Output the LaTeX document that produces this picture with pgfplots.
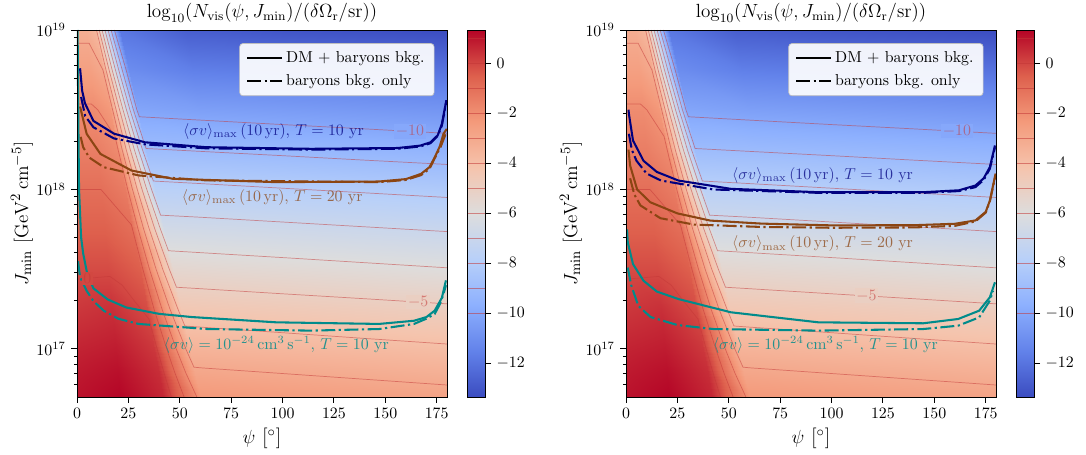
\documentclass[border=0pt]{standalone}
\usepackage{pgfplots}
\pgfplotsset{compat=1.18}
\usepackage{pgfplotstable}

\definecolor{navyc}{RGB}{0,0,128}
\definecolor{brownc}{RGB}{139,69,19}
\definecolor{tealc}{RGB}{0,139,139}
\definecolor{contourcol}{RGB}{195,55,55}

% field: psi [deg], L = log10(Jmin), value
\pgfplotstableread{
p L v
0 16.69 1.05
20.95 16.69 1.3
41.9 16.69 0.65
60.1 16.69 -2.29
84.1 16.69 -2.37
100 16.69 -2.43
140 16.69 -2.57
180 16.69 -2.71
0 16.85 0.9
19.85 16.85 1.1
39.7 16.85 0.5
57.55 16.85 -2.87
82.0 16.85 -2.96
100 16.85 -3.02
140 16.85 -3.16
180 16.85 -3.30
0 17.0 0.7
18.8 17.0 0.85
37.6 17.0 0.3
55 17.0 -3.44
80 17.0 -3.53
100 17.0 -3.60
140 17.0 -3.74
180 17.0 -3.88
0 17.25 0.3
17 17.25 0.45
34 17.25 -0.1
50.75 17.25 -4.42
76.6 17.25 -4.51
100 17.25 -4.59
140 17.25 -4.73
180 17.25 -4.87
0 17.5 -0.1
15.2 17.5 -0.1
30.45 17.5 -0.5
46.5 17.5 -5.49
73.2 17.5 -5.59
100 17.5 -5.68
140 17.5 -5.82
180 17.5 -5.96
0 17.75 -0.55
13.45 17.75 -0.55
26.9 17.75 -0.95
42.25 17.75 -6.59
69.8 17.75 -6.68
100 17.75 -6.79
140 17.75 -6.93
180 17.75 -7.07
0 18.0 -1.0
11.65 18.0 -1.0
23.3 18.0 -1.4
38 18.0 -7.74
66.4 18.0 -7.84
100 18.0 -7.96
140 18.0 -8.10
180 18.0 -8.24
0 18.25 -1.45
9.85 18.25 -1.45
19.7 18.25 -1.85
33.75 18.25 -8.97
63 18.25 -9.07
100 18.25 -9.20
140 18.25 -9.34
180 18.25 -9.48
0 18.5 -1.9
8.08 18.5 -1.9
16.15 18.5 -2.3
29.5 18.5 -10.1
59.6 18.5 -10.33
100 18.5 -10.47
140 18.5 -10.61
180 18.5 -10.75
0 18.75 -2.6
6.3 18.75 -2.6
12.6 18.75 -3.0
25.25 18.75 -11.1
56.2 18.75 -11.6
100 18.75 -11.77
140 18.75 -11.91
180 18.75 -12.05
0 19.0 -3.2
4.5 19.0 -3.2
9 19.0 -3.6
21 19.0 -11.9
52.8 19.0 -12.75
100 19.0 -13.07
140 19.0 -13.21
180 19.0 -13.35
}\field

\pgfplotsset{
  colormap={coolwarm}{rgb255=(59,76,192) rgb255=(98,130,234) rgb255=(141,176,254) rgb255=(184,208,249) rgb255=(221,221,221) rgb255=(245,196,173) rgb255=(244,154,123) rgb255=(222,96,77) rgb255=(180,4,38)},
  ctr/.style={contourcol, opacity=0.5, line width=0.45pt, forget plot},
  solidc/.style={line width=1.3pt, forget plot},
  dashc/.style={line width=1.3pt, dash pattern=on 8.8pt off 2.2pt on 1.4pt off 2.2pt, forget plot},
  every axis title shift=0pt,
  panel/.style={
    width=233.1pt, height=231.2pt, scale only axis,
    xmin=0, xmax=180, ymin=16.69897, ymax=19,
    xtick={0,25,...,175},
    ytick={17,18,19}, yticklabels={$10^{17}$,$10^{18}$,$10^{19}$},
    minor ytick={16.77815,16.84510,16.90309,16.95424,17.30103,17.47712,17.60206,17.69897,17.77815,17.84510,17.90309,17.95424,18.30103,18.47712,18.60206,18.69897,18.77815,18.84510,18.90309,18.95424},
    tick align=outside, tick pos=left,
    major tick length=3.5pt, minor tick length=2pt,
    every tick/.style={black, line width=0.6pt},
    axis line style={line width=0.6pt},
    axis on top,
    colormap name=coolwarm, point meta min=-13.36, point meta max=1.32,
    colorbar,
    colorbar style={
      at={(parent axis.north east)}, anchor=north west, xshift=4.4pt,
      width=11.3pt,
      ytick={-12,-10,...,0},
      ytick pos=right, yticklabel pos=right,
      tick align=outside, major tick length=3.5pt,
      axis line style={line width=0.6pt},
      axis on top,
      extra y ticks={-10,-9,...,1}, extra y tick labels={},
      extra y tick style={grid=major, major tick length=0pt,
        major grid style={color=contourcol, line width=0.45pt, opacity=0.55}},
    },
    title={$\log_{10}(N_{\mathrm{vis}}(\psi, J_{\mathrm{min}})/(\delta\Omega_{\mathrm{r}}/\mathrm{sr}))$},
    title style={font=\large, at={(axis description cs:0.5,1.046)}, anchor=center},
    xlabel={$\psi$ [$^\circ$]},
    ylabel={$J_{\mathrm{min}}$ $[\mathrm{GeV}^2\,\mathrm{cm}^{-5}]$},
    xlabel style={font=\fontsize{13}{15}\selectfont, at={(axis description cs:0.5,-0.112)}, anchor=center},
    ylabel style={font=\fontsize{12.5}{15}\selectfont, at={(axis description cs:-0.149,0.5)}, anchor=center},
    legend cell align=left,
    legend style={at={(0.966,0.964)}, anchor=north east, draw=black!25, fill=white,
      fill opacity=0.92, text opacity=1, rounded corners=2pt, font=\normalsize,
      row sep=2pt, inner xsep=4pt, inner ysep=3pt},
    legend image code/.code={\draw[#1] (0pt,0pt) -- (22pt,0pt);},
  },
}

\newcommand{\drawfield}{%
\addplot[surf, shader=interp, mesh/cols=8, point meta=explicit, forget plot] table[x=p, y=L, meta=v] {\field};
}

\newcommand{\drawcontours}{%
\addplot[ctr] coordinates {(18.2,19) (23.9,18.75) (29.13,18.5) (30.35,18.456) (60,18.435) (100,18.407) (140,18.38) (180,18.352)};
\addplot[ctr] coordinates {(16.6,19) (22.0,18.75) (27.44,18.5) (33.6,18.257) (60,18.239) (100,18.212) (140,18.184) (180,18.157)};
\addplot[ctr] coordinates {(15.1,19) (20.3,18.75) (25.76,18.5) (31.84,18.25) (37.15,18.053) (60,18.037) (100,18.008) (140,17.979) (180,17.95)};
\addplot[ctr] coordinates {(13.6,19) (18.7,18.75) (24.07,18.5) (29.86,18.25) (36.28,18.0) (40.7,17.839) (60,17.826) (100,17.796) (140,17.766) (180,17.736)};
\addplot[ctr] coordinates {(12.2,19) (17.1,18.75) (22.39,18.5) (27.89,18.25) (33.97,18) (40.64,17.75) (44.5,17.616) (60,17.604) (100,17.573) (140,17.541) (180,17.509)};
\addplot[ctr] coordinates {(10.8,19) (15.6,18.75) (20.70,18.5) (25.92,18.25) (31.65,18) (37.92,17.75) (44.92,17.5) (48.4,17.387) (60,17.378) (100,17.346) (140,17.315) (180,17.283)};
\addplot[ctr] coordinates {(9.5,19) (14.1,18.75) (19.02,18.5) (23.94,18.25) (29.33,18) (35.20,17.75) (41.71,17.5) (49.12,17.25) (52.5,17.144) (60,17.137) (100,17.102) (140,17.066) (180,17.031)};
\addplot[ctr] coordinates {(0,18.917) (5.9,18.917) (12.6,18.75) (17.33,18.5) (21.97,18.25) (27.01,18) (32.48,17.75) (38.49,17.5) (45.24,17.25) (52.95,17.0) (56.9,16.886) (60,16.882) (100,16.846) (140,16.81) (180,16.774)};
\addplot[ctr] coordinates {(0,18.536) (7,18.536) (10.1,18.5) (18.5,18.333) (20.0,18.25) (24.69,18) (29.76,17.75) (35.27,17.5) (41.37,17.25) (48.30,17.0) (52.94,16.85) (58.30,16.699)};
\addplot[ctr] coordinates {(0,18.0) (11.65,18.0) (26.5,17.778) (27.04,17.75) (32.06,17.5) (37.49,17.25) (43.65,17.0) (47.64,16.85) (52.11,16.699)};
\addplot[ctr] coordinates {(0,17.4375) (16,17.455) (22,17.40) (28,17.30) (35,17.1875) (39.0,17.0) (42.35,16.85) (45.92,16.699)};
}

\newcommand{\drawlegend}{%
\addlegendimage{black, line width=1.3pt}
\addlegendentry{DM + baryons bkg.}
\addlegendimage{black, line width=1.3pt, dash pattern=on 8.8pt off 2.2pt on 1.4pt off 2.2pt}
\addlegendentry{baryons bkg. only}
}

\begin{document}
\begin{tikzpicture}
\useasboundingbox (-48.5pt,-36.5pt) rectangle (635.7pt,250.1pt);

% ---------------- left panel ----------------
\begin{axis}[panel, at={(0pt,0pt)}, anchor=south west]
\drawfield
\drawcontours
% navy
\addplot[solidc, navyc] coordinates {(1.5,18.76) (2.5,18.62) (3.9,18.54) (8,18.43) (18,18.35) (33,18.296) (63,18.265) (114,18.255) (156,18.26) (167,18.275) (172,18.296) (175.5,18.34) (177.5,18.41) (179.7,18.56)};
\addplot[dashc, navyc] coordinates {(2.0,18.58) (4,18.46) (8,18.39) (18,18.32) (33,18.283) (63,18.258) (114,18.25) (156,18.255) (167,18.27) (172,18.29) (175.5,18.335) (177.5,18.40) (179.7,18.55)};
% brown
\addplot[solidc, brownc] coordinates {(1.5,18.52) (4.7,18.349) (11.4,18.223) (26.5,18.119) (46.6,18.067) (97,18.046) (147,18.05) (160,18.065) (167.4,18.098) (171.5,18.14) (174.1,18.203) (176.5,18.27) (178.3,18.349) (179.9,18.38)};
\addplot[dashc, brownc] coordinates {(1.8,18.33) (3,18.265) (6,18.2) (13,18.14) (30,18.088) (63,18.057) (147,18.046) (160,18.06) (167.4,18.09) (171.5,18.13) (174,18.195) (177,18.27) (179.7,18.36)};
% teal
\addplot[solidc, tealc] coordinates {(0.3,19.0) (0.6,18.5) (1.0,18.0) (2,17.7) (3,17.6) (5,17.47) (8,17.38) (15,17.31) (24,17.26) (40,17.22) (56,17.2) (97,17.167) (147,17.157) (164,17.177) (170,17.2) (174,17.24) (177.5,17.32) (179.5,17.43)};
\addplot[dashc, tealc] coordinates {(0.5,17.55) (1.5,17.45) (4.7,17.365) (8,17.3) (13,17.24) (20,17.19) (29.9,17.157) (63.4,17.125) (113.7,17.115) (147,17.125) (164,17.157) (170,17.19) (174,17.219) (176.5,17.28) (178.3,17.344) (179.5,17.40)};
% contour labels
\node[fill={rgb,255:red,134;green,168;blue,251}, text=contourcol, text opacity=0.55, inner sep=1pt] at (axis cs:162,18.365) {$-10$};
\node[fill={rgb,255:red,234;green,207;blue,194}, text=contourcol, text opacity=0.55, inner sep=1pt] at (axis cs:166,17.294) {$-5$};
\node[fill={rgb,255:red,210;green,72;blue,65}, text=contourcol, text opacity=0.55, inner sep=1pt] at (axis cs:5,17.44) {$0$};
% annotations
\node[text=navyc, text opacity=0.75] at (axis cs:95.6,18.365) {$\langle\sigma v\rangle_{\max}\,(10\,\mathrm{yr})$, $T=10$ yr};
\node[text=brownc, text opacity=0.75] at (axis cs:95,17.952) {$\langle\sigma v\rangle_{\max}\,(10\,\mathrm{yr})$, $T=20$ yr};
\node[text=tealc, text opacity=0.85] at (axis cs:97,17.027) {$\langle\sigma v\rangle=10^{-24}\,\mathrm{cm}^3\,\mathrm{s}^{-1}$, $T=10$ yr};
\drawlegend
\end{axis}

% ---------------- right panel ----------------
\begin{axis}[panel, at={(345.9pt,0pt)}, anchor=south west]
\drawfield
\drawcontours
% navy
\addplot[solidc, navyc] coordinates {(1.2,18.5) (1.4,18.474) (3.4,18.307) (8.5,18.18) (15,18.11) (25.5,18.056) (51,18.004) (93.6,17.983) (144.6,17.983) (162,17.995) (170,18.025) (174,18.07) (177,18.14) (179.5,18.276)};
\addplot[dashc, navyc] coordinates {(1.4,18.349) (2.8,18.25) (5.1,18.18) (10,18.1) (17,18.056) (42.5,18.0) (93.6,17.979) (144.6,17.979) (162,17.99) (170,18.015) (174,18.06) (177,18.13) (179.5,18.265)};
% brown
\addplot[solidc, brownc] coordinates {(1.2,18.25) (2,18.15) (5.4,18.0) (11.8,17.92) (25,17.85) (41,17.805) (66,17.786) (100,17.775) (140,17.776) (160,17.785) (170,17.806) (175,17.86) (177,17.93) (179.8,18.1)};
\addplot[dashc, brownc] coordinates {(2,18.07) (4,17.97) (7,17.9) (16.7,17.82) (33,17.78) (66,17.765) (100,17.76) (140,17.762) (160,17.772) (170,17.80) (175,17.855) (177,17.925) (179.8,18.09)};
% teal
\addplot[solidc, tealc] coordinates {(0.5,17.75) (0.85,17.668) (3.4,17.532) (8.5,17.428) (15,17.36) (25.5,17.313) (51,17.23) (93.6,17.167) (144.6,17.161) (161.6,17.188) (171.8,17.24) (177,17.324) (179.5,17.418)};
\addplot[dashc, tealc] coordinates {(0.85,17.51) (2.5,17.40) (6,17.27) (12,17.2) (25,17.15) (42.5,17.125) (93.6,17.115) (144.6,17.125) (161.6,17.146) (171.8,17.198) (177,17.303) (178.6,17.365)};
% contour labels
\node[fill={rgb,255:red,134;green,168;blue,251}, text=contourcol, text opacity=0.55, inner sep=1pt] at (axis cs:161,18.366) {$-10$};
\node[fill={rgb,255:red,234;green,207;blue,194}, text=contourcol, text opacity=0.55, inner sep=1pt] at (axis cs:117,17.333) {$-5$};
% annotations
\node[text=navyc, text opacity=0.75] at (axis cs:95.6,18.088) {$\langle\sigma v\rangle_{\max}\,(10\,\mathrm{yr})$, $T=10$ yr};
\node[text=brownc, text opacity=0.75] at (axis cs:95.6,17.658) {$\langle\sigma v\rangle_{\max}\,(10\,\mathrm{yr})$, $T=20$ yr};
\node[text=tealc, text opacity=0.85] at (axis cs:97,17.027) {$\langle\sigma v\rangle=10^{-24}\,\mathrm{cm}^3\,\mathrm{s}^{-1}$, $T=10$ yr};
\drawlegend
\end{axis}
\end{tikzpicture}
\end{document}
